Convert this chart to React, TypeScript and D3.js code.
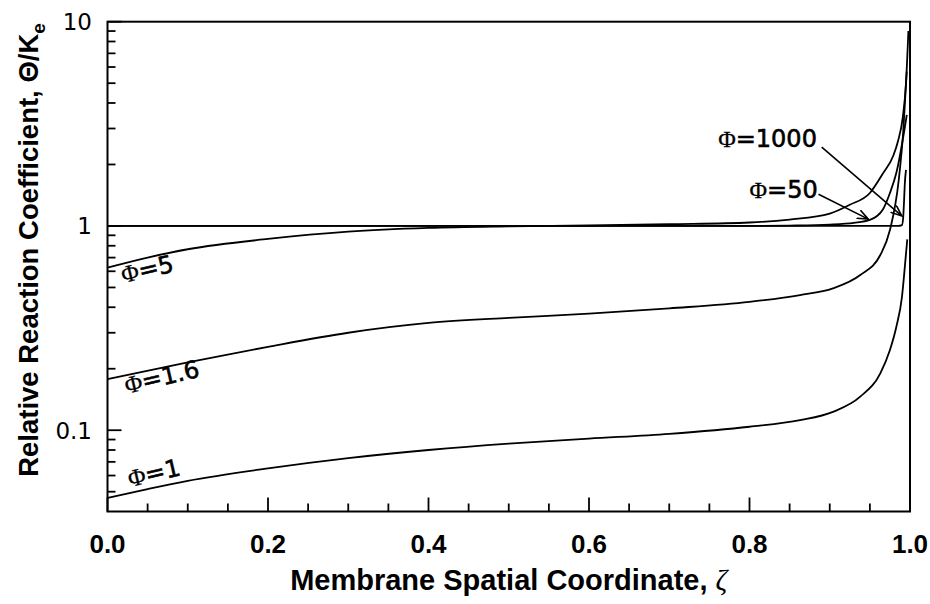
import React from "react";
import * as d3 from "d3";

// Membrane spatial coordinate (zeta) vs relative reaction coefficient, one series per Thiele modulus
const phi1Z = [0, 0.05, 0.1, 0.2, 0.3, 0.4, 0.5, 0.6, 0.7, 0.8, 0.863, 0.904, 0.938, 0.963, 0.975, 0.983, 0.99, 0.994, 0.9966];
const phi1V = [0.0466, 0.0515, 0.0565, 0.065, 0.073, 0.08, 0.086, 0.091, 0.096, 0.104, 0.112, 0.123, 0.146, 0.19, 0.247, 0.321, 0.45, 0.659, 0.86];

const phi16Z = [0, 0.1, 0.2, 0.3, 0.4, 0.5, 0.6, 0.7, 0.8, 0.863, 0.904, 0.938, 0.963, 0.975, 0.986, 0.9917, 0.9959];
const phi16V = [0.178, 0.215, 0.256, 0.3, 0.335, 0.355, 0.372, 0.395, 0.425, 0.459, 0.495, 0.575, 0.721, 0.955, 1.68, 2.95, 5.7];

const phi5Z = [0, 0.05, 0.1, 0.2, 0.3, 0.4, 0.5, 0.6, 0.7, 0.8, 0.85, 0.9, 0.925, 0.95, 0.966, 0.979, 0.985, 0.991, 0.995, 0.998];
const phi5V = [0.625, 0.7, 0.769, 0.864, 0.938, 0.978, 0.995, 1.005, 1.02, 1.04, 1.075, 1.15, 1.27, 1.45, 1.8, 2.2, 2.6, 3.4, 5.0, 9.0];

const phi50Z = [0, 0.5, 0.8, 0.85, 0.9, 0.93, 0.95, 0.966, 0.975, 0.983, 0.993, 0.996];
const phi50V = [1, 1, 1, 1.004, 1.015, 1.035, 1.07, 1.2, 1.45, 1.82, 2.95, 3.5];

const phi1000Z = [0, 0.5, 0.985, 0.99, 0.9915, 0.9925, 0.9935, 0.995];
const phi1000V = [1, 1, 1, 1.01, 1.1, 1.3, 1.6, 1.88];

const seriesZ = [phi1Z, phi16Z, phi5Z, phi50Z, phi1000Z];
const seriesV = [phi1V, phi16V, phi5V, phi50V, phi1000V];

// Axis ticks
const xMajorTicks = [0, 0.2, 0.4, 0.6, 0.8, 1.0];
const xMinorTicks = [0.05, 0.1, 0.15, 0.25, 0.3, 0.35, 0.45, 0.5, 0.55, 0.65, 0.7, 0.75, 0.85, 0.9, 0.95];
const yMajorTicks = [0.1, 1, 10];
const yMajorLabels = ["0.1", "1", "10"];
const yMinorTicks = [0.05, 0.06, 0.07, 0.08, 0.09, 0.2, 0.3, 0.4, 0.5, 0.6, 0.7, 0.8, 0.9, 2, 3, 4, 5, 6, 7, 8, 9];

// Rotated curve labels: anchor (zeta, value) and suffix after the Phi glyph
const inlineLabelText = ["=5", "=1.6", "=1"];
const inlineLabelZ = [0.0197, 0.024, 0.028];
const inlineLabelV = [0.525, 0.151, 0.0527];

// Arrow callouts: label end, arrow tail and arrow tip in data coordinates
const calloutText = ["=1000", "=50"];
const calloutLabelZ = [0.884, 0.885];
const calloutLabelV = [2.446, 1.37];
const calloutTailZ = [0.89, 0.886];
const calloutTailV = [2.43, 1.43];
const calloutTipZ = [0.9897, 0.948];
const calloutTipV = [1.12, 1.08];

const W = 930;
const H = 604;
const left = 107.5;
const right = 910;
const top = 21.7;
const bottom = 511.5;

export default function App() {
  const x = d3.scaleLinear().domain([0, 1]).range([left, right]);
  const y = d3.scaleLog().domain([0.04, 10]).range([bottom, top]);

  const line = d3
    .line<[number, number]>()
    .x((d) => x(d[0]))
    .y((d) => y(d[1]))
    .curve(d3.curveMonotoneX);

  const sans = "'DejaVu Sans', Verdana, sans-serif";
  const serif = "'Liberation Serif', 'Times New Roman', serif";
  const arial = "'Liberation Sans', Arial, sans-serif";

  return (
    <svg
      width={W}
      height={H}
      viewBox={`0 0 ${W} ${H}`}
      style={{ position: "absolute", left: 0, top: 0, background: "#fff" }}
    >
      <defs>
        <marker
          id="vhead"
          viewBox="0 0 12 10"
          refX="11"
          refY="5"
          markerWidth="12"
          markerHeight="10"
          markerUnits="userSpaceOnUse"
          orient="auto"
        >
          <path d="M0,0.5 L11,5 L0,9.5" fill="none" stroke="#000" strokeWidth="1.6" />
        </marker>
        <clipPath id="plotClip">
          <rect x={left} y={top} width={right - left} height={bottom - top} />
        </clipPath>
      </defs>

      {/* curves */}
      <g clipPath="url(#plotClip)">
        {seriesZ.map((zs, i) => (
          <path
            key={i}
            d={line(zs.map((z, j) => [z, seriesV[i][j]] as [number, number])) || ""}
            fill="none"
            stroke="#000"
            strokeWidth={1.8}
          />
        ))}
      </g>

      {/* frame */}
      <rect
        x={left}
        y={top}
        width={right - left}
        height={bottom - top}
        fill="none"
        stroke="#000"
        strokeWidth={2}
      />

      {/* x ticks (inward) */}
      {xMajorTicks.map((t) => (
        <line key={`xM${t}`} x1={x(t)} x2={x(t)} y1={bottom} y2={bottom - 14} stroke="#000" strokeWidth={1.8} />
      ))}
      {xMinorTicks.map((t) => (
        <line key={`xm${t}`} x1={x(t)} x2={x(t)} y1={bottom} y2={bottom - 8} stroke="#000" strokeWidth={1.8} />
      ))}
      {xMajorTicks.map((t) => (
        <text
          key={`xl${t}`}
          x={x(t)}
          y={553}
          textAnchor="middle"
          fontFamily={arial}
          fontWeight="bold"
          fontSize={26}
          fill="#000"
        >
          {d3.format(".1f")(t)}
        </text>
      ))}

      {/* y ticks (inward) */}
      {yMajorTicks.map((t) => (
        <line key={`yM${t}`} x1={left} x2={left + 14} y1={y(t)} y2={y(t)} stroke="#000" strokeWidth={1.8} />
      ))}
      {yMinorTicks.map((t) => (
        <line key={`ym${t}`} x1={left} x2={left + 8} y1={y(t)} y2={y(t)} stroke="#000" strokeWidth={1.8} />
      ))}
      {yMajorTicks.map((t, i) => (
        <text
          key={`yl${t}`}
          x={92}
          y={y(t) + 8.5}
          textAnchor="end"
          fontFamily={sans}
          fontSize={23}
          fill="#000"
        >
          {yMajorLabels[i]}
        </text>
      ))}

      {/* axis titles */}
      <text
        x={(left + right) / 2}
        y={590}
        textAnchor="middle"
        fontFamily={arial}
        fontWeight="bold"
        fontSize={29}
        fill="#000"
      >
        Membrane Spatial Coordinate, <tspan fontFamily={serif} fontStyle="italic" fontWeight="normal">ζ</tspan>
      </text>
      <text
        transform={`translate(38, 250) rotate(-90)`}
        textAnchor="middle"
        fontFamily={arial}
        fontWeight="bold"
        fontSize={27.5}
        fill="#000"
      >
        Relative Reaction Coefficient, Θ/K
        <tspan fontSize={19} dy={7}>e</tspan>
      </text>

      {/* rotated curve labels */}
      {inlineLabelText.map((s, i) => (
        <text
          key={`il${i}`}
          transform={`translate(${x(inlineLabelZ[i])}, ${y(inlineLabelV[i])}) rotate(-13)`}
          fontFamily={sans}
          fontSize={24}
          fill="#000"
          stroke="#000"
          strokeWidth={0.6}
        >
          <tspan fontFamily={serif} strokeWidth={0.3}>Φ</tspan>
          {s}
        </text>
      ))}

      {/* callouts with arrows */}
      {calloutText.map((s, i) => (
        <g key={`co${i}`}>
          <text
            x={x(calloutLabelZ[i])}
            y={y(calloutLabelV[i])}
            textAnchor="end"
            fontFamily={sans}
            fontSize={24}
            fill="#000"
            stroke="#000"
            strokeWidth={0.6}
          >
            <tspan fontFamily={serif} strokeWidth={0.3}>Φ</tspan>
            {s}
          </text>
          <line
            x1={x(calloutTailZ[i])}
            y1={y(calloutTailV[i])}
            x2={x(calloutTipZ[i])}
            y2={y(calloutTipV[i])}
            stroke="#000"
            strokeWidth={1.6}
            markerEnd="url(#vhead)"
          />
        </g>
      ))}
    </svg>
  );
}
